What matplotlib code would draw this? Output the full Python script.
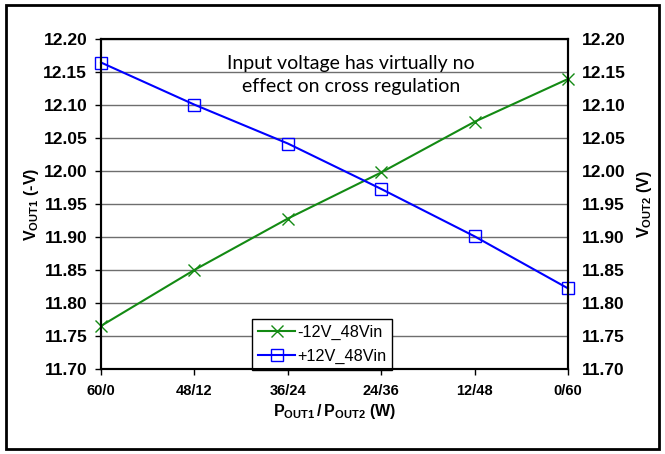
import matplotlib.pyplot as plt
from matplotlib.patches import Rectangle

# data
categories = ["60/0", "48/12", "36/24", "24/36", "12/48", "0/60"]
neg12_48vin = [11.765, 11.850, 11.928, 11.998, 12.075, 12.140]
pos12_48vin = [12.165, 12.101, 12.042, 11.973, 11.901, 11.822]
y_ticks = [11.70, 11.75, 11.80, 11.85, 11.90, 11.95, 12.00, 12.05, 12.10, 12.15, 12.20]

plt.rcParams['font.family'] = ['Liberation Sans', 'DejaVu Sans']
plt.rcParams['mathtext.fontset'] = 'custom'
plt.rcParams['mathtext.rm'] = 'Liberation Sans:bold'

fig = plt.figure(figsize=(6.65, 4.54), dpi=100)
ax = fig.add_axes([0.152, 0.188, 0.702, 0.725])

x = list(range(len(categories)))
ax.plot(x, neg12_48vin, color='#138a13', lw=1.5, marker='x', ms=9, mew=1.0,
        label='-12V_48Vin', clip_on=False, zorder=3)
ax.plot(x, pos12_48vin, color='#0000ff', lw=1.5, marker='s', ms=8, mew=1.0,
        mfc='none', label='+12V_48Vin', clip_on=False, zorder=3)

ax.set_xlim(0, len(categories) - 1)
ax.set_ylim(11.70, 12.20)
ax.set_xticks(x)
ax.set_xticklabels(categories, fontsize=10.5, fontweight='bold')
ax.set_yticks(y_ticks)
ax.set_yticklabels([f"{v:.2f}" for v in y_ticks], fontsize=12.5, fontweight='bold')
ax.tick_params(axis='x', direction='out', length=4, width=1, pad=7)
ax.tick_params(axis='y', direction='out', length=4, width=1, pad=6)
ax.grid(axis='y', color='#6e6e6e', lw=1)
ax.set_axisbelow(True)
for s in ax.spines.values():
    s.set_linewidth(1.5)

ax2 = ax.twinx()
ax2.set_ylim(11.70, 12.20)
ax2.set_yticks(y_ticks)
ax2.set_yticklabels([f"{v:.2f}" for v in y_ticks], fontsize=12.5, fontweight='bold')
ax2.tick_params(axis='y', length=0, pad=10)
for s in ax2.spines.values():
    s.set_linewidth(1.5)

ax.set_ylabel(r'$\mathrm{V_{OUT1}}$ (-V)', fontsize=11.5, fontweight='bold', labelpad=2)
ax2.set_ylabel(r'$\mathrm{V_{OUT2}}$ (V)', fontsize=11.5, fontweight='bold', labelpad=7)
ax.set_xlabel(r'$\mathrm{P_{OUT1}\,/\,P_{OUT2}}$ (W)', fontsize=11.5, fontweight='bold',
              labelpad=3)

ax.text(2.68, 12.146, "Input voltage has virtually no\neffect on cross regulation",
        ha='center', va='center', fontsize=14, family='Lato', linespacing=1.38)

leg = ax.legend(loc='lower left', bbox_to_anchor=(0.324, -0.003), fontsize=11.7,
                frameon=True, fancybox=False, edgecolor='black', framealpha=1,
                borderpad=0.35, handlelength=2.3, handletextpad=0.1, labelspacing=0.55,
                borderaxespad=0)
leg.get_frame().set_linewidth(1.0)

fig.patches.append(Rectangle((0.009, 0.011), 0.982, 0.978, transform=fig.transFigure,
                             fill=False, edgecolor='black', lw=2))

fig.savefig('out.png', dpi=100)
